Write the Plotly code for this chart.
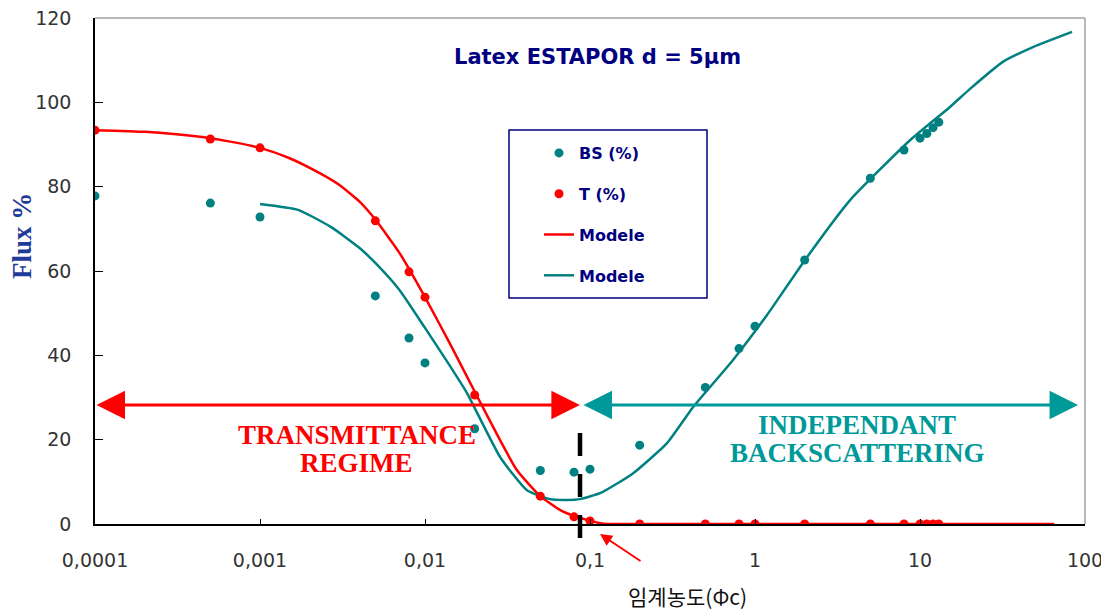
import numpy as np
import plotly.graph_objects as go

# ---------------- data ----------------
bs_x = [0.0001, 0.0005, 0.001, 0.005, 0.008, 0.01, 0.02, 0.05, 0.08, 0.1, 0.2, 0.5, 0.8, 1.0, 2, 5, 8, 10, 11, 12, 13]
bs_y = [77.8, 76.1, 72.8, 54.1, 44.1, 38.2, 22.6, 12.7, 12.3, 13.0, 18.7, 32.4, 41.6, 46.9, 62.6, 82.0, 88.7, 91.5, 92.6, 94.0, 95.3]

t_x = [0.0001, 0.0005, 0.001, 0.005, 0.008, 0.01, 0.02, 0.05, 0.08, 0.1, 0.2, 0.5, 0.8, 1.0, 2, 5, 8, 10, 11, 12, 13]
t_y = [93.4, 91.3, 89.2, 71.9, 59.8, 53.8, 30.6, 6.6, 1.7, 0.7, 0.0, 0.0, 0.0, 0.0, 0.0, 0.0, 0.0, 0.0, 0.0, 0.0, 0.0]

model_t_x = [0.0001, 0.0002, 0.0003, 0.0005, 0.0007, 0.001, 0.0015, 0.0023, 0.003, 0.004, 0.005, 0.007,
             0.01, 0.0145, 0.0205, 0.0285, 0.036, 0.05, 0.066, 0.083, 0.1, 0.115, 0.13, 0.3, 1, 10, 65]
model_t_y = [93.4, 93.0, 92.5, 91.5, 90.5, 89.2, 86.8, 83.2, 80.5, 76.5, 72.2, 64.3,
             53.8, 42.0, 30.6, 19.9, 12.8, 6.6, 3.3, 1.7, 0.8, 0.2, 0.0, 0.0, 0.0, 0.0, 0.0]

model_bs_x = [0.001, 0.0017, 0.0027, 0.004, 0.005, 0.007, 0.01, 0.014, 0.018, 0.0285, 0.0415, 0.0572, 0.072,
              0.087, 0.115, 0.182, 0.293, 0.421, 0.736, 1.18, 2, 3.77, 8.7, 15.2, 20.1, 31.8, 48.4, 83.4]
model_bs_y = [75.9, 74.5, 70.4, 65.5, 61.9, 55.5, 46.5, 37.8, 31.0, 15.9, 8.0, 5.9, 5.7,
              5.9, 7.3, 12.0, 19.2, 27.7, 38.9, 49.5, 62.5, 76.8, 91.0, 98.9, 103.2, 109.6, 113.1, 116.7]

tick_vals = [0.0001, 0.001, 0.01, 0.1, 1, 10, 100]
tick_text = ["0,0001", "0,001", "0,01", "0,1", "1", "10", "100"]
y_ticks = [0, 20, 40, 60, 80, 100, 120]

# annotation constants
PHI_C = 0.087          # critical concentration (dashed line / arrow junction)
ARROW_Y = 28.2
ARROW_LEFT = 0.0001
ARROW_RIGHT = 90.8
X_LOG_RANGE = [-4, 2]

RED = "#ff0000"
TEAL = "#008080"
TEAL_L = "#009999"
NAVY = "#000080"

fig = go.Figure()

fig.add_trace(go.Scatter(x=model_t_x, y=model_t_y, mode="lines", name="Modele", legendgroup="c", legendrank=3,
                         line=dict(color=RED, width=2.5, shape="spline", smoothing=0.5)))
fig.add_trace(go.Scatter(x=model_bs_x, y=model_bs_y, mode="lines", name="Modele", legendgroup="d", legendrank=4,
                         line=dict(color=TEAL, width=2.5, shape="spline", smoothing=0.5)))
fig.add_trace(go.Scatter(x=bs_x, y=bs_y, mode="markers", name="BS (%)", legendgroup="a", legendrank=1,
                         marker=dict(color=TEAL, size=9)))
fig.add_trace(go.Scatter(x=t_x, y=t_y, mode="markers", name="T (%)", legendgroup="b", legendrank=2,
                         marker=dict(color=RED, size=9)))

# page body has an 8px margin: figure origin sits at page (8, 8)
OFF = 8
W, H = 1109 - OFF, 614 - OFF
PL, PR, PT, PB = 95, 1085, 18, 524          # plot area in page pixels
L, T = PL - OFF, PT - OFF
R, B = W - (PR - OFF), H - (PB - OFF)
PW, PH = PR - PL, PB - PT


def px_x(p):
    return (p - PL) / PW


def px_y(p):
    return (PB - p) / PH


def log_paper(v):
    return (np.log10(v) - X_LOG_RANGE[0]) / (X_LOG_RANGE[1] - X_LOG_RANGE[0])


annotations = []
# title
annotations.append(dict(text="Latex ESTAPOR d = 5μm", xref="paper", yref="paper", x=px_x(597), y=px_y(57),
                        xanchor="center", yanchor="middle", showarrow=False,
                        font=dict(family="DejaVu Sans", size=21, color=NAVY, weight="bold")))
# y title
annotations.append(dict(text="<b>Flux %</b>", xref="paper", yref="paper", x=px_x(22), y=px_y(236),
                        xanchor="center", yanchor="middle", showarrow=False, textangle=-90,
                        font=dict(family="Liberation Serif", size=27, color="#1f3a99")))
# regime texts
for txt, cx, cy, col in [("TRANSMITTANCE", 357, 435, RED), ("REGIME", 356, 463, RED),
                         ("INDEPENDANT", 857, 425, TEAL_L), ("BACKSCATTERING", 857, 453, TEAL_L)]:
    annotations.append(dict(text=txt, xref="paper", yref="paper", x=px_x(cx), y=px_y(cy), showarrow=False,
                            xanchor="center", yanchor="middle",
                            font=dict(family="Liberation Serif", size=27, color=col, weight="bold")))
# double arrows
annotations.append(dict(text="", x=float(np.log10(PHI_C)) - 0.001, y=ARROW_Y, ax=float(np.log10(ARROW_LEFT)), ay=ARROW_Y,
                        xref="x", yref="y", axref="x", ayref="y", showarrow=True,
                        arrowside="end+start", arrowhead=2, startarrowhead=2,
                        arrowsize=1.9, startarrowsize=1.9, arrowwidth=3, arrowcolor=RED))
annotations.append(dict(text="", x=float(np.log10(ARROW_RIGHT)), y=ARROW_Y, ax=float(np.log10(PHI_C)) + 0.012, ay=ARROW_Y,
                        xref="x", yref="y", axref="x", ayref="y", showarrow=True,
                        arrowside="end+start", arrowhead=2, startarrowhead=2,
                        arrowsize=1.9, startarrowsize=1.9, arrowwidth=3, arrowcolor=TEAL_L))
# pointer to critical concentration
annotations.append(dict(text="", xref="paper", yref="paper", x=px_x(600), y=px_y(534), ax=42, ay=28,
                        showarrow=True, arrowhead=2, arrowsize=1.2, arrowwidth=2, arrowcolor=RED))
annotations.append(dict(text="임계농도(Φc)", xref="paper", yref="paper", x=px_x(687), y=px_y(596),
                        xanchor="center", yanchor="middle", showarrow=False,
                        font=dict(family="Noto Sans CJK KR", size=21, color="#111111")))

xc = float(log_paper(PHI_C))
shapes = [
    # legend box
    dict(type="rect", xref="paper", yref="paper", x0=px_x(509), x1=px_x(707), y0=px_y(298), y1=px_y(130),
         line=dict(color=NAVY, width=1.5), fillcolor="white", layer="below"),
    # top / right frame (grey)
    dict(type="line", xref="paper", yref="paper", x0=0, x1=1, y0=1, y1=1, line=dict(color="#a0a0a0", width=1.5)),
    dict(type="line", xref="paper", yref="paper", x0=1, x1=1, y0=0, y1=1, line=dict(color="#a0a0a0", width=1.5)),
    # critical concentration dashed line
    dict(type="line", xref="paper", yref="paper", x0=xc, x1=xc,
         y0=px_y(433), y1=px_y(541), line=dict(color="black", width=4.5, dash="23px,18px"), layer="above"),
]

fig.update_layout(
    width=W, height=H,
    margin=dict(l=L, r=R, t=T, b=B, autoexpand=False),
    paper_bgcolor="white", plot_bgcolor="white",
    showlegend=True,
    legend=dict(x=px_x(539), y=px_y(136), xanchor="left", yanchor="top",
                bgcolor="rgba(0,0,0,0)", borderwidth=0, tracegroupgap=17, traceorder="grouped",
                font=dict(family="DejaVu Sans", size=16, color=NAVY, weight="bold")),
    annotations=annotations,
    shapes=shapes,
)

fig.update_xaxes(type="log", range=X_LOG_RANGE, tickvals=tick_vals, ticktext=tick_text, automargin=False,
                 showgrid=False, zeroline=False, showline=True, linecolor="black", linewidth=1.5,
                 ticks="inside", ticklen=5, tickcolor="black", ticklabelstandoff=18, ticklabeloverflow="allow",
                 tickfont=dict(family="DejaVu Sans", size=19, color="#333333"))
fig.update_yaxes(range=[0, 120], tickvals=y_ticks, automargin=False,
                 showgrid=False, zeroline=False, showline=True, linecolor="black", linewidth=1.5,
                 ticks="inside", ticklen=8, tickcolor="black", ticklabelstandoff=18, ticklabeloverflow="allow",
                 tickfont=dict(family="DejaVu Sans", size=19, color="#333333"))

fig.write_html("out.html")
